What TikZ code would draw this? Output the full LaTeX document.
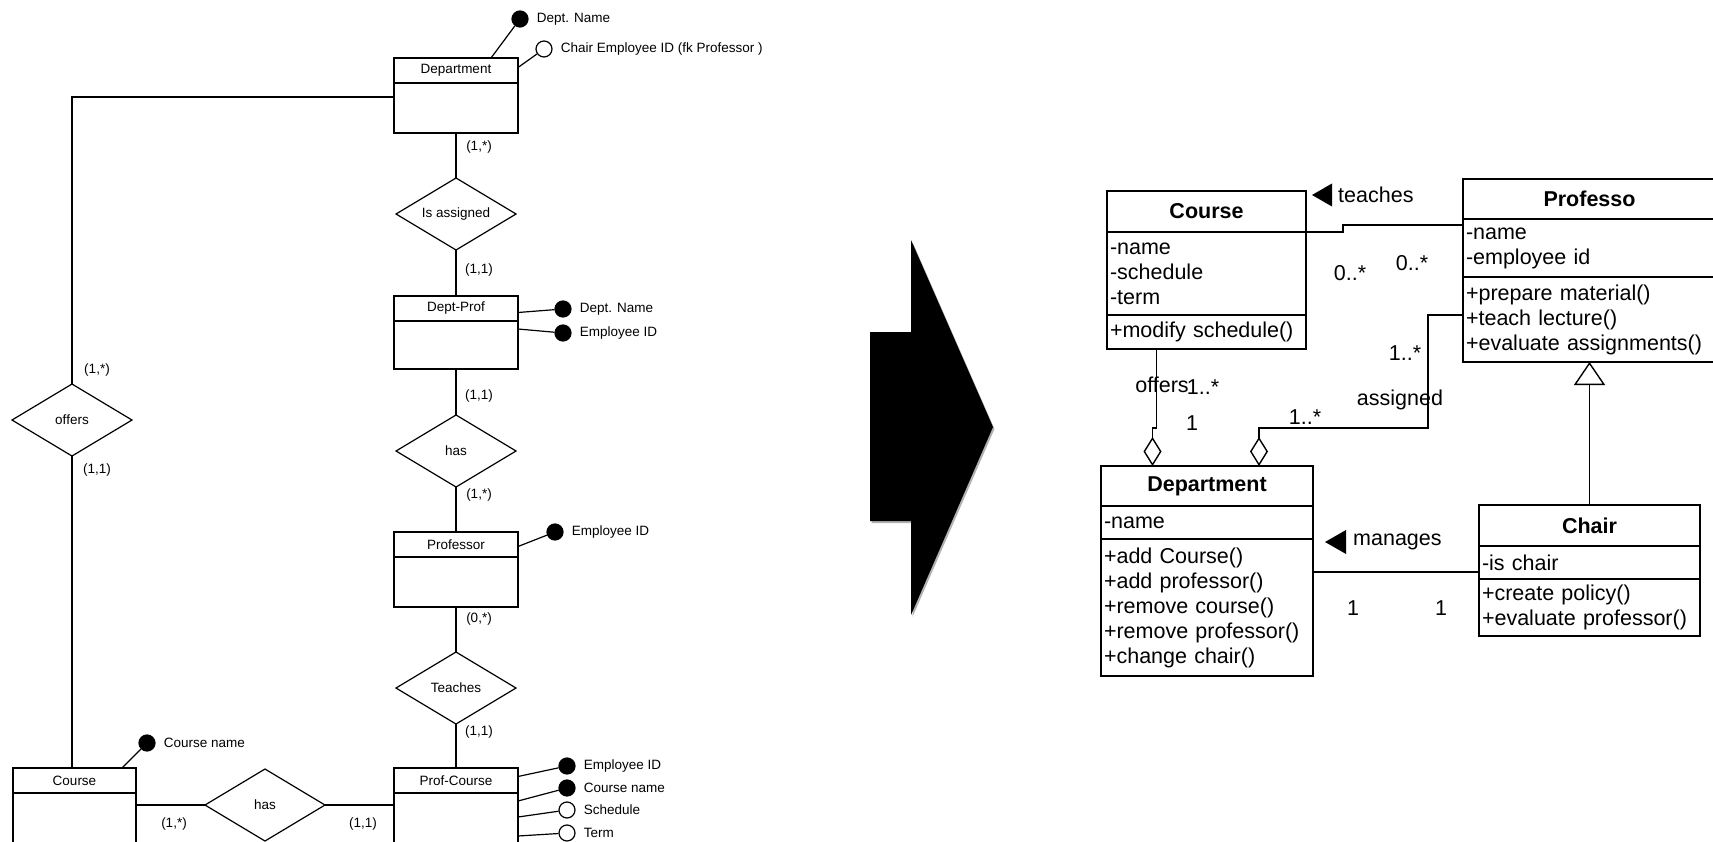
\documentclass[tikz,border=0pt]{standalone}
\usepackage{fontspec}
\setmainfont{Liberation Sans}
\usetikzlibrary{shapes.geometric, arrows.meta, positioning, calc}

\newcommand{\erfont}{\fontsize{13.5}{16}\selectfont}
\newcommand{\umlfont}{\fontsize{21.5}{25}\selectfont}

\begin{document}
\begin{tikzpicture}[
    x=1pt, y=-1pt,
    entity/.style={rectangle, draw, line width=1.2pt, minimum width=124pt, minimum height=25pt, inner sep=0pt, outer sep=0pt, font=\erfont},
    entbody/.style={rectangle, draw, line width=1.2pt, minimum width=124pt, minimum height=#1, inner sep=0pt, outer sep=0pt},
    relation/.style={diamond, draw, line width=1.2pt, aspect=1.667, minimum width=120pt, minimum height=72pt, inner sep=0pt, outer sep=0pt, font=\erfont},
    keyattr/.style={circle, draw, line width=1.2pt, fill=black, minimum size=16pt, inner sep=0pt},
    optattr/.style={keyattr, fill=white},
    attrtext/.style={font=\erfont, inner sep=0pt, right=8pt of #1},
    card/.style={font=\erfont, inner sep=0pt},
    erline/.style={draw, line width=1.2pt},
    umlhead/.style={rectangle, draw, line width=1.8pt, minimum width=#1, inner sep=0pt, outer sep=0pt, font=\umlfont\bfseries, anchor=north west},
    umlpart/.style={rectangle, draw, line width=1.8pt, text width=#1, inner xsep=3pt, inner ysep=0pt, outer sep=0pt, align=left, font=\umlfont},
    umllabel/.style={font=\umlfont, inner sep=0pt},
    assoc/.style={draw, line width=1.8pt},
    aggr/.style={assoc, -{Diamond[open, length=29pt, width=18pt, line width=1.4pt]}},
    inherit/.style={assoc, -{Triangle[open, length=23pt, width=31pt, line width=1.4pt]}},
]
\useasboundingbox (0,0) rectangle (1713,842);
\clip (0,0) rectangle (1713,842);

\node [entity] (dept) at (456,70.5) {Department};
\node [entbody=50pt, below=0pt of dept] (deptbody) {};
\node [relation, below=45pt of deptbody] (assigned) {Is assigned};
\node [entity, below=46pt of assigned] (deptprof) {Dept-Prof};
\node [entbody=48pt, below=0pt of deptprof] (deptprofbody) {};
\node [relation, below=46pt of deptprofbody] (hasprof) {has};
\node [entity, below=45pt of hasprof] (prof) {Professor};
\node [entbody=50pt, below=0pt of prof] (profbody) {};
\node [relation, below=45pt of profbody] (teaches) {Teaches};
\node [entity, below=44pt of teaches] (profcourse) {Prof-Course};
\node [entbody=80pt, below=0pt of profcourse] (profcoursebody) {};

\node [relation] (offers) at (72,420) {offers};
\node [entity, minimum width=123pt] (course) at (74.5,780.5) {Course};
\node [entbody=80pt, minimum width=123pt, below=0pt of course] (coursebody) {};
\node [relation] (hascourse) at (265,805) {has};

\node [keyattr] (dname) at (520,19) {};
\node [attrtext=dname] (dnametext) {Dept. Name};
\node [optattr] (chairid) at (544,49) {};
\node [attrtext=chairid] (chairidtext) {Chair Employee ID (fk Professor )};
\node [keyattr] (dpname) at (563,309) {};
\node [attrtext=dpname] (dpnametext) {Dept. Name};
\node [keyattr] (dpempid) at (563,333) {};
\node [attrtext=dpempid] (dpempidtext) {Employee ID};
\node [keyattr] (profid) at (555,532) {};
\node [attrtext=profid] (profidtext) {Employee ID};
\node [keyattr] (pcempid) at (567,766) {};
\node [attrtext=pcempid] (pcempidtext) {Employee ID};
\node [keyattr] (pccourse) at (567,788) {};
\node [attrtext=pccourse] (pccoursetext) {Course name};
\node [optattr] (pcsched) at (567,810) {};
\node [attrtext=pcsched] (pcschedtext) {Schedule};
\node [optattr] (pcterm) at (567,833) {};
\node [attrtext=pcterm] (pctermtext) {Term};
\node [keyattr] (cname) at (147,743) {};
\node [attrtext=cname] (cnametext) {Course name};

\node [card] (c1) at (479,147) {(1,*)};
\node [card] (c2) at (479,270) {(1,1)};
\node [card] (c3) at (479,396) {(1,1)};
\node [card] (c4) at (479,495) {(1,*)};
\node [card] (c5) at (479,619) {(0,*)};
\node [card] (c6) at (479,732) {(1,1)};
\node [card] (c7) at (97,370) {(1,*)};
\node [card] (c8) at (97,470) {(1,1)};
\node [card] (c9) at (174,824) {(1,*)};
\node [card] (c10) at (363,824) {(1,1)};

\path [erline] (deptbody.south) -- (assigned.north);
\path [erline] (assigned.south) -- (deptprof.north);
\path [erline] (deptprofbody.south) -- (hasprof.north);
\path [erline] (hasprof.south) -- (prof.north);
\path [erline] (profbody.south) -- (teaches.north);
\path [erline] (teaches.south) -- (profcourse.north);
\path [erline] (deptbody.north west) ++(0,14) -| (offers.north);
\path [erline] (offers.south) -- (offers.south |- course.north);
\path [erline] (hascourse.west) -- (hascourse.west -| coursebody.east);
\path [erline] (hascourse.east) -- (hascourse.east -| profcoursebody.west);

\path [erline] (dept.north east) ++(-27,0) -- (dname);
\path [erline] (dept.east) ++(0,-3) -- (chairid);
\path [erline] (deptprof.east) ++(0,4) -- (dpname);
\path [erline] (deptprofbody.north east) ++(0,8) -- (dpempid);
\path [erline] (prof.east) ++(0,2) -- (profid);
\path [erline] (profcourse.east) ++(0,-4) -- (pcempid);
\path [erline] (profcoursebody.north east) ++(0,8) -- (pccourse);
\path [erline] (profcoursebody.north east) ++(0,24) -- (pcsched);
\path [erline] (profcoursebody.north east) ++(0,43) -- (pcterm);
\path [erline] (course.north east) ++(-14,0) -- (cname);

\fill [black!30, shift={(1.5,2)}] (870,332) -- (911,332) -- (911,240) -- (993,427) -- (911,615) -- (911,521) -- (870,521) -- cycle;
\fill [black] (870,332) -- (911,332) -- (911,240) -- (993,427) -- (911,615) -- (911,521) -- (870,521) -- cycle;

\node [umlhead=199pt, minimum height=41pt] (ucourse) at (1107,191) {Course};
\node [umlpart=193pt, minimum height=83pt, below=0pt of ucourse] (ucourseattr) {-name\\-schedule\\-term};
\node [umlpart=193pt, minimum height=34pt, below=0pt of ucourseattr] (ucourseops) {+modify schedule()};

\node [umlhead=253pt, minimum height=40pt] (uprof) at (1463,179) {Professo};
\node [umlpart=247pt, minimum height=58pt, below=0pt of uprof] (uprofattr) {-name\\-employee id};
\node [umlpart=247pt, minimum height=85pt, below=0pt of uprofattr] (uprofops) {+prepare material()\\+teach lecture()\\+evaluate assignments()};

\node [umlhead=212pt, minimum height=40pt] (udept) at (1101,466) {Department};
\node [umlpart=206pt, minimum height=33pt, below=0pt of udept] (udeptattr) {-name};
\node [umlpart=206pt, minimum height=137pt, below=0pt of udeptattr] (udeptops) {+add Course()\\+add professor()\\+remove course()\\+remove professor()\\+change chair()};

\node [umlhead=221pt, minimum height=41pt] (uchair) at (1479,505) {Chair};
\node [umlpart=215pt, minimum height=33pt, below=0pt of uchair] (uchairattr) {-is chair};
\node [umlpart=215pt, minimum height=57pt, below=0pt of uchairattr] (uchairops) {+create policy()\\+evaluate professor()};

\coordinate (t1) at ($(uprofattr.north west)+(0,6)$);
\path [assoc] (ucourseattr.north east) -- ++(37,0) |- (t1);
\coordinate (o1) at ($(ucourseops.south)+(-50,0)$);
\coordinate (o2) at ($(udept.north)+(-54.5,0)$);
\path [aggr] (o1) -- ++(0,79) -| (o2);
\coordinate (s1) at ($(uprofops.north west)+(0,38)$);
\coordinate (s2) at ($(udept.north)+(52,0)$);
\path [aggr] (s1) -- ++(-35,0) -- ++(0,113) -| (s2);
\path [inherit] (uchair.north) -- (uchair.north |- uprofops.south);
\coordinate (m1) at ($(udeptops.north east)+(0,33)$);
\path [assoc] (m1) -- (m1 -| uchairattr.west);

\node [umllabel, anchor=west] (lteaches) at (1338,195) {teaches};
\fill ($(lteaches.west)+(-6,-11.5)$) -- ++(0,23) -- ++(-20,-11.5) -- cycle;
\node [umllabel] (mt1) at (1350,273) {0..*};
\node [umllabel] (mt2) at (1412,263) {0..*};
\node [umllabel] (loffers) at (1162,385) {offers};
\node [umllabel] (mo1) at (1203,387) {1..*};
\node [umllabel] (mo2) at (1192,423) {1};
\node [umllabel] (ma1) at (1405,353) {1..*};
\node [umllabel] (lassigned) at (1400,400) {assigned};
\node [umllabel] (ma2) at (1305,417) {1..*};
\node [umllabel, anchor=west] (lmanages) at (1353,542) {manages};
\fill ($(lmanages.west)+(-7,-12)$) -- ++(0,24) -- ++(-21,-12) -- cycle;
\node [umllabel] (mm1) at (1353,608) {1};
\node [umllabel] (mm2) at (1441,608) {1};
\end{tikzpicture}
\end{document}
